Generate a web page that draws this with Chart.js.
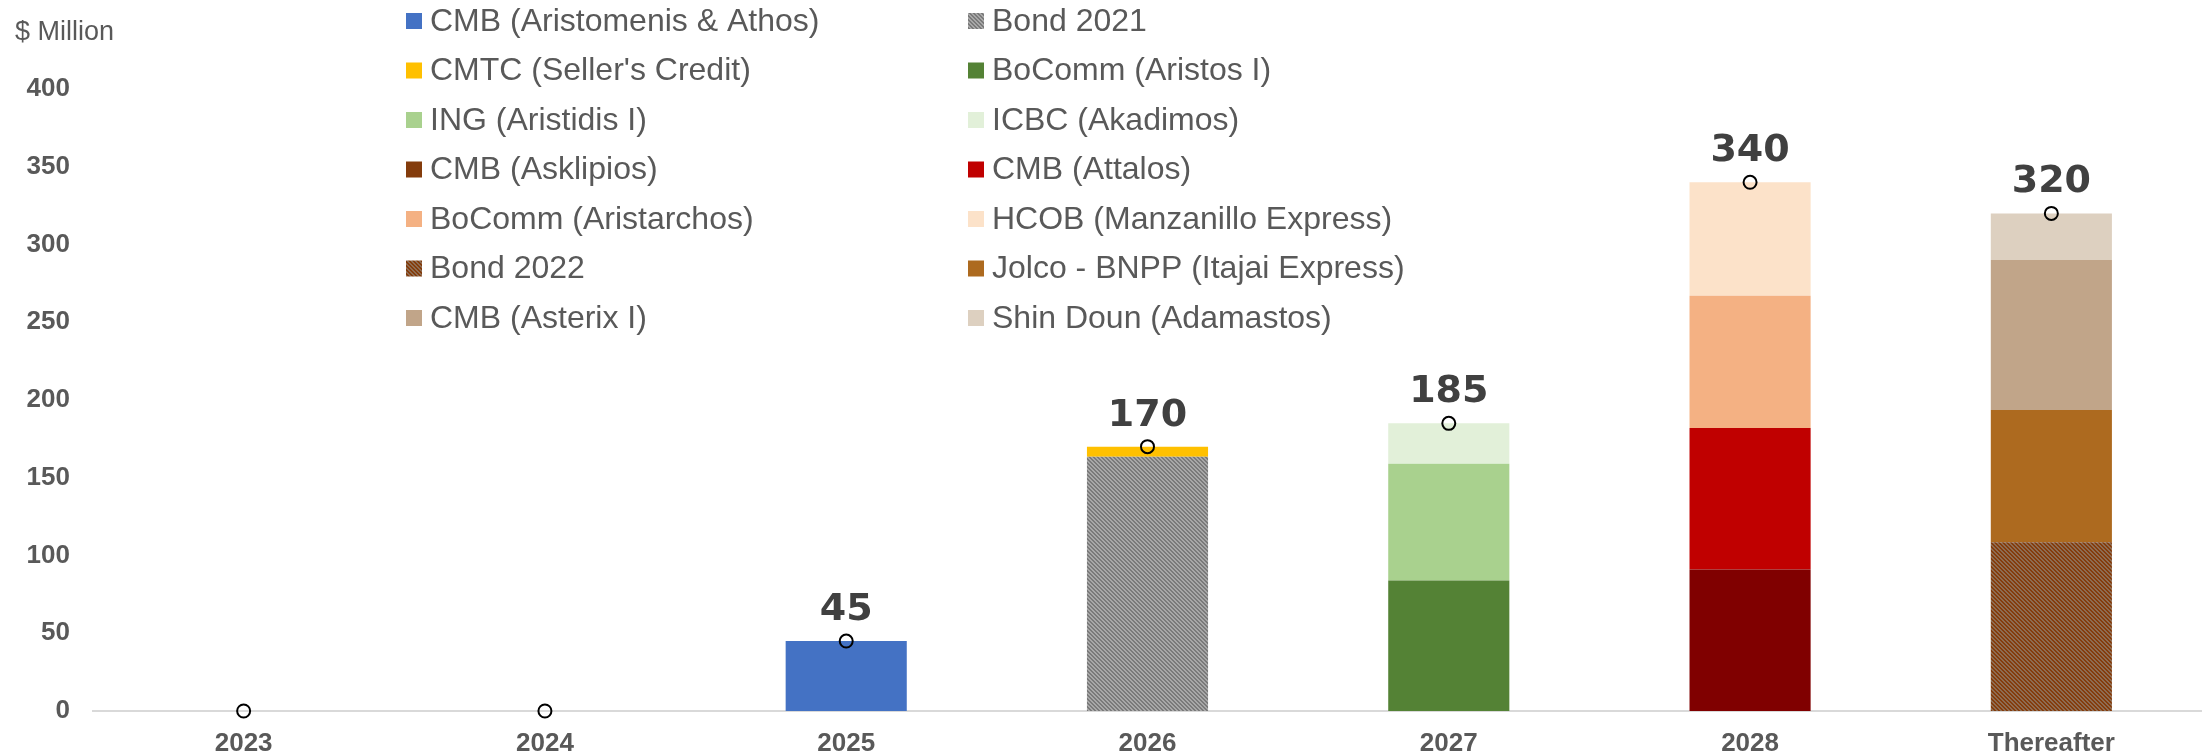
<!DOCTYPE html>
<html><head><meta charset="utf-8">
<script src="https://cdn.jsdelivr.net/npm/chart.js@4.4.1/dist/chart.umd.min.js"></script>
<style>html,body{margin:0;padding:0;background:#fff}#wrap{position:relative;width:2202px;height:756px}</style>
</head><body><div id="wrap"><canvas id="c"></canvas></div>
<script>
// ---------- data ----------
const categories = ['2023', '2024', '2025', '2026', '2027', '2028', 'Thereafter'];
const seriesNames = [
  'CMB (Aristomenis & Athos)', 'Bond 2021',
  "CMTC (Seller's Credit)", 'BoComm (Aristos I)',
  'ING (Aristidis I)', 'ICBC (Akadimos)',
  'CMB (Asklipios)', 'CMB (Attalos)',
  'BoComm (Aristarchos)', 'HCOB (Manzanillo Express)',
  'Bond 2022', 'Jolco - BNPP (Itajai Express)',
  'CMB (Asterix I)', 'Shin Doun (Adamastos)'
];
const cmbAristomenisAthos = [null, null, 45, null, null, null, null];
const bond2021            = [null, null, null, 163.5, null, null, null];
const cmtcSellersCredit   = [null, null, null, 6.5, null, null, null];
const bocommAristosI      = [null, null, null, null, 84, null, null];
const ingAristidisI       = [null, null, null, null, 75, null, null];
const icbcAkadimos        = [null, null, null, null, 26, null, null];
const cmbAsklipios        = [null, null, null, null, null, 91, null];
const cmbAttalos          = [null, null, null, null, null, 91, null];
const bocommAristarchos   = [null, null, null, null, null, 85, null];
const hcobManzanillo      = [null, null, null, null, null, 73, null];
const bond2022            = [null, null, null, null, null, null, 108.5];
const jolcoItajai         = [null, null, null, null, null, null, 85];
const cmbAsterixI         = [null, null, null, null, null, null, 96.5];
const shinDounAdamastos   = [null, null, null, null, null, null, 30];
const totals = [0, 0, 45, 170, 185, 340, 320];
const yTickValues = [0, 50, 100, 150, 200, 250, 300, 350, 400];
const unitLabel = '$ Million';

// ---------- styles ----------
function stripes(fg, bg) {
  const s = 4, cv = document.createElement('canvas');
  cv.width = s; cv.height = s;
  const g = cv.getContext('2d');
  g.fillStyle = bg; g.fillRect(0, 0, s, s);
  g.fillStyle = fg;
  for (let y = 0; y < s; y++) { g.fillRect(y % s, y, 1, 1); g.fillRect((y + 1) % s, y, 1, 1); }
  return document.getElementById('c').getContext('2d').createPattern(cv, 'repeat');
}
const barFills = [
  '#4472C4', stripes('#7a7a7a', '#a8a8a8'), '#FFC000', '#548235',
  '#A9D18E', '#E2F0D9', '#800000', '#C00000',
  '#F4B183', '#FCE2C9', stripes('#843C0C', '#8E6C52'), '#AD6A1F',
  '#C1A589', '#DDD0C0'
];
const legendFills = barFills.slice();
legendFills[6] = '#843C0C';

const seriesValues = [cmbAristomenisAthos, bond2021, cmtcSellersCredit, bocommAristosI,
  ingAristidisI, icbcAkadimos, cmbAsklipios, cmbAttalos, bocommAristarchos, hcobManzanillo,
  bond2022, jolcoItajai, cmbAsterixI, shinDounAdamastos];

const datasets = seriesValues.map((vals, i) => ({
  type: 'bar', label: seriesNames[i], data: vals, backgroundColor: barFills[i],
  borderWidth: 0, stack: 'debt', order: 1,
  barPercentage: 0.402, categoryPercentage: 1
}));
datasets.push({
  type: 'line', label: 'Total', data: totals, showLine: false, stack: 'total', order: 0,
  pointRadius: 6.5, pointBorderWidth: 2, pointBorderColor: '#000',
  pointBackgroundColor: 'rgba(0,0,0,0)', clip: false
});

const GRAY = '#595959';
const overlayPlugin = {
  id: 'overlay',
  afterDatasetsDraw(chart) {
    const ctx = chart.ctx;
    const meta = chart.getDatasetMeta(chart.data.datasets.length - 1);
    ctx.save();
    ctx.font = 'bold 38px "DejaVu Sans"';
    ctx.fillStyle = '#404040';
    ctx.textAlign = 'center';
    ctx.textBaseline = 'middle';
    meta.data.forEach((pt, i) => {
      if (totals[i] > 0) ctx.fillText(String(totals[i]), pt.x, pt.y - 31);
    });
    ctx.restore();
  },
  afterDraw(chart) {
    const ctx = chart.ctx;
    ctx.save();
    ctx.font = '27px "Liberation Sans"';
    ctx.fillStyle = GRAY;
    ctx.textAlign = 'left';
    ctx.textBaseline = 'middle';
    ctx.fillText(unitLabel, 15, 33);
    // legend: two columns, row-wise order
    const colX = [406, 968];
    ctx.font = '32px "Liberation Sans"';
    seriesNames.forEach((name, i) => {
      const col = i % 2, row = Math.floor(i / 2);
      const cy = 21 + row * 49.5;
      ctx.fillStyle = legendFills[i];
      ctx.fillRect(colX[col], cy - 8, 16, 16);
      ctx.fillStyle = GRAY;
      ctx.fillText(name, colX[col] + 24, cy + 1);
    });
    ctx.restore();
  }
};

new Chart(document.getElementById('c'), {
  data: { labels: categories, datasets },
  options: {
    responsive: true, maintainAspectRatio: false, animation: false,
    layout: { autoPadding: false, padding: { top: 89, right: 0, left: 0, bottom: 0 } },
    plugins: { legend: { display: false }, tooltip: { enabled: false } },
    scales: {
      x: {
        stacked: true, offset: true,
        grid: { display: false, drawTicks: false },
        border: { display: true, color: '#D9D9D9', width: 2 },
        ticks: { color: GRAY, font: { family: '"Liberation Sans"', size: 26, weight: 'bold' }, padding: 17, maxRotation: 0 },
        afterFit(s) { s.height = 45; }
      },
      y: {
        stacked: true, min: 0, max: 400,
        grid: { display: false, drawTicks: false },
        border: { display: false },
        afterBuildTicks(s) { s.ticks = yTickValues.map(v => ({ value: v })); },
        ticks: { color: GRAY, font: { family: '"Liberation Sans"', size: 26, weight: 'bold' }, padding: 23 },
        afterFit(s) { s.width = 93; }
      }
    }
  },
  plugins: [overlayPlugin]
});
</script></body></html>
